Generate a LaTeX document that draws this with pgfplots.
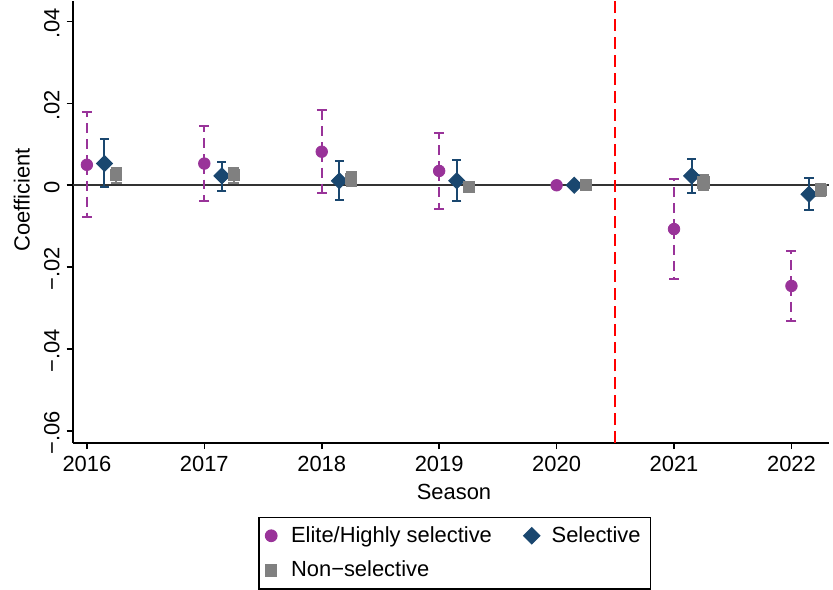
\documentclass[border=0pt]{standalone}
\usepackage{fontspec}
\setmainfont{Liberation Sans}
\usepackage{pgfplots}
\pgfplotsset{compat=1.18}
\usepackage{pgfplotstable}
\definecolor{elite}{RGB}{153,51,153}
\definecolor{selnavy}{RGB}{26,71,111}
\definecolor{nonsel}{RGB}{128,128,128}
\newcommand{\fs}{\fontsize{11}{13.2}\selectfont}

% x  y  ep (plus)  em (minus)
\pgfplotstableread{
x y ep em
2016 0.0050 0.0130 0.0127
2017 0.0053 0.0092 0.0092
2018 0.0082 0.0102 0.0102
2019 0.0035 0.0093 0.0092
2021 -0.0107 0.0123 0.0123
2022 -0.0246 0.0085 0.0085
}\elitedata
\pgfplotstableread{
x y ep em
2016.15 0.0053 0.0059 0.0057
2017.15 0.0023 0.0034 0.0036
2018.15 0.0011 0.0048 0.0048
2019.15 0.0011 0.0050 0.0050
2021.15 0.0023 0.0041 0.0041
2022.15 -0.0022 0.0039 0.0038
}\seldata
\pgfplotstableread{
x y ep em
2016.25 0.0026 0.0016 0.0020
2017.25 0.0025 0.0018 0.0019
2018.25 0.0015 0.0018 0.0018
2019.25 -0.0003 0.0010 0.0010
2021.25 0.0007 0.0018 0.0018
2022.25 -0.0011 0.0014 0.0015
}\nonseldata

\begin{document}
\begin{tikzpicture}
\begin{axis}[
  scale only axis, width=380pt, height=222pt,
  xmin=2015.879, xmax=2022.322, ymin=-0.063, ymax=0.045,
  scaled y ticks=false, scaled x ticks=false,
  axis x line*=bottom, axis y line*=left,
  axis line style={-, line width=0.9pt, black},
  xtick={2016,2017,2018,2019,2020,2021,2022},
  xticklabels={2016,2017,2018,2019,2020,2021,2022},
  ytick={-0.06,-0.04,-0.02,0,0.02,0.04},
  yticklabels={−.06,−.04,−.02,0,.02,.04},
  tick align=outside, major tick length=3pt,
  tick style={line width=0.8pt, black},
  xticklabel style={font=\fs},
  yticklabel style={font=\fs, rotate=90, anchor=south, xshift=-1pt},
  xlabel={Season}, ylabel={Coefficient},
  xlabel style={font=\fs, at={(axis description cs:0.504,0)}, anchor=north, yshift=-17pt},
  ylabel style={font=\fs, at={(axis description cs:-0.0671,0.55)}, anchor=center},
  clip=false,
  legend style={font=\fs, at={(axis description cs:0.505,-0.1667)}, anchor=north,
    draw=black, line width=0.6pt, legend columns=2, legend cell align=left,
    row sep=4pt, inner ysep=2.5pt,
    /tikz/every even column/.append style={column sep=14pt}},
  legend image code/.code={\path (0.05cm,0cm) (0.42cm,0cm); \draw[mark repeat=2,mark phase=2,#1] plot coordinates {(0cm,0cm)(0.15cm,0cm)(0.3cm,0cm)};},
]
\addplot[forget plot, black!80, line width=1pt] coordinates {(2015.879,0) (2022.322,0)};
\addplot[forget plot, red, line width=1.1pt, dash pattern=on 6pt off 3pt] coordinates {(2020.5,-0.063) (2020.5,0.045)};

\addplot[only marks, mark=*, mark size=2.9pt, color=elite,
  error bars/.cd, y dir=both, y explicit,
  error bar style={line width=1pt, dash pattern=on 5pt off 3pt},
  error mark options={rotate=90, solid, line width=1pt, mark size=2.5pt}]
  table[x=x, y=y, y error plus=ep, y error minus=em]{\elitedata};
\addlegendentry{Elite/Highly selective}

\addplot[only marks, mark=square*, mark size=2.85pt, mark options={rotate=45}, color=selnavy,
  error bars/.cd, y dir=both, y explicit,
  error bar style={line width=1pt, solid},
  error mark options={rotate=90, solid, line width=1pt, mark size=2.3pt}]
  table[x=x, y=y, y error plus=ep, y error minus=em]{\seldata};
\addlegendentry{Selective}

\addplot[only marks, mark=square*, mark size=2.8pt, color=nonsel,
  error bars/.cd, y dir=both, y explicit,
  error bar style={line width=1pt, solid},
  error mark options={rotate=90, solid, line width=1pt, mark size=2.8pt}]
  table[x=x, y=y, y error plus=ep, y error minus=em]{\nonseldata};
\addlegendentry{Non−selective}

% reference season 2020 (no confidence interval)
\addplot[forget plot, only marks, mark=*, mark size=2.9pt, color=elite] coordinates {(2020,0)};
\addplot[forget plot, only marks, mark=square*, mark size=2.85pt, mark options={rotate=45}, color=selnavy] coordinates {(2020.15,0)};
\addplot[forget plot, only marks, mark=square*, mark size=2.8pt, color=nonsel] coordinates {(2020.25,0)};
\end{axis}
\path (current axis.south west) ++(-36.5pt,0pt) coordinate (padleft);
\end{tikzpicture}
\end{document}
